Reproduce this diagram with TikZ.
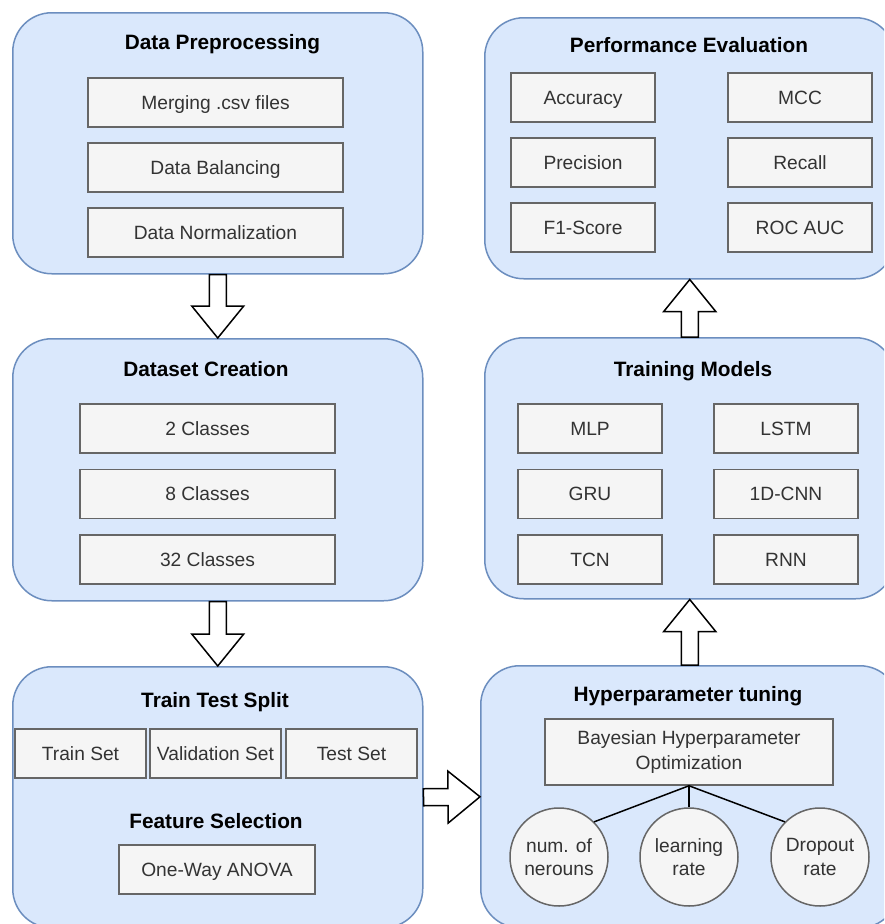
\documentclass[tikz,border=0pt]{standalone}
\usepackage{fontspec}
\setmainfont{Liberation Sans}
\usetikzlibrary{calc}
\definecolor{grpfill}{HTML}{DAE8FC}
\definecolor{grpline}{HTML}{6C8EBF}
\definecolor{itemfill}{HTML}{F5F5F5}
\definecolor{itemline}{HTML}{666666}
\definecolor{itemtext}{HTML}{333333}
\tikzset{
  grp/.style={draw=grpline, fill=grpfill, line width=1.5pt, rounded corners=39pt,
    rectangle, inner sep=0pt, anchor=north west},
  itembox/.style={draw=itemline, fill=itemfill, line width=1.5pt, rectangle, inner sep=0pt,
    text=itemtext, font=\fontsize{19.2}{23}\selectfont, text height=13.7pt, text depth=0pt,
    minimum height=49pt, align=center},
  twoline/.style={draw=itemline, fill=itemfill, line width=1.5pt, rectangle, inner sep=0pt,
    text=itemtext, font=\fontsize{19.2}{24.5}\selectfont, minimum height=66pt, align=center},
  ttl/.style={font=\bfseries\fontsize{20.8}{25}\selectfont, anchor=base, inner sep=0pt},
  circ/.style={circle, draw=itemline, fill=itemfill, line width=1.5pt, minimum size=98pt,
    inner sep=0pt, text=itemtext, font=\fontsize{19.2}{23.3}\selectfont, align=center},
  blkarr/.style={draw=black, fill=white, line width=1.5pt, line join=miter},
  link/.style={draw=black, line width=1.5pt}
}
\newcommand\blkarrow[2]{%
  \coordinate (ba-s) at (#1);
  \coordinate (ba-t) at (#2);
  \coordinate (ba-h) at ($(ba-t)!32pt!(ba-s)$);
  \draw[blkarr] ($(ba-s)!8.5pt!90:(ba-t)$) -- ($(ba-h)!8.5pt!-90:(ba-s)$)
    -- ($(ba-h)!26pt!-90:(ba-s)$) -- (ba-t) -- ($(ba-h)!26pt!90:(ba-s)$)
    -- ($(ba-h)!8.5pt!90:(ba-s)$) -- ($(ba-s)!8.5pt!-90:(ba-t)$) -- cycle;
}
\begin{document}
\begin{tikzpicture}[x=1pt, y=-1pt]
\useasboundingbox (0,0) rectangle (884,924);
\clip (0,0) rectangle (884,924);
\fill[white] (0,0) rectangle (884,924);

% group boxes
\node[grp, minimum width=410pt, minimum height=261pt] (pre) at (12,12) {};
\node[grp, minimum width=410pt, minimum height=262pt] (dc) at (12,338) {};
\node[grp, minimum width=410pt, minimum height=261pt] (tts) at (12,666) {};
\node[grp, minimum width=410pt, minimum height=261pt] (perf) at (484,17) {};
\node[grp, minimum width=410pt, minimum height=261pt] (tm) at (484,337) {};
\node[grp, minimum width=418pt, minimum height=262pt] (ht) at (480,665) {};

% titles
\node[ttl] (preT) at (222.5,49) {Data Preprocessing};
\node[ttl] (dcT) at (206,376) {Dataset Creation};
\node[ttl] (ttsT) at (215,707) {Train Test Split};
\node[ttl] (fsT) at (216,828) {Feature Selection};
\node[ttl] (perfT) at (689,52) {Performance Evaluation};
\node[ttl] (tmT) at (693,376) {Training Models};
\node[ttl] (htT) at (688,701) {Hyperparameter tuning};

% data preprocessing items
\node[itembox, minimum width=255pt] (merge) at (215.5,102.5) {Merging .csv files};
\node[itembox, minimum width=255pt] (bal) at (215.5,167.5) {Data Balancing};
\node[itembox, minimum width=255pt] (norm) at (215.5,232.5) {Data Normalization};

% dataset creation items
\node[itembox, minimum width=255pt] (c2) at (207.5,428.5) {2 Classes};
\node[itembox, minimum width=255pt] (c8) at (207.5,494) {8 Classes};
\node[itembox, minimum width=255pt] (c32) at (207.5,559.5) {32 Classes};

% split items
\node[itembox, minimum width=131pt] (train) at (80.5,753.5) {Train Set};
\node[itembox, minimum width=131pt] (val) at (215.5,753.5) {Validation Set};
\node[itembox, minimum width=131pt] (test) at (351.5,753.5) {Test Set};
\node[itembox, minimum width=196pt] (anova) at (217,869.5) {One-Way ANOVA};

% performance items
\node[itembox, minimum width=144pt] (acc) at (583,97.5) {Accuracy};
\node[itembox, minimum width=144pt] (prec) at (583,162.5) {Precision};
\node[itembox, minimum width=144pt] (f1) at (583,227.5) {F1-Score};
\node[itembox, minimum width=144pt] (mcc) at (800,97.5) {MCC};
\node[itembox, minimum width=144pt] (rec) at (800,162.5) {Recall};
\node[itembox, minimum width=144pt] (roc) at (800,227.5) {ROC AUC};

% training models items
\node[itembox, minimum width=144pt] (mlp) at (590,428.5) {MLP};
\node[itembox, minimum width=144pt] (gru) at (590,494) {GRU};
\node[itembox, minimum width=144pt] (tcn) at (590,559.5) {TCN};
\node[itembox, minimum width=144pt] (lstm) at (786,428.5) {LSTM};
\node[itembox, minimum width=144pt] (cnn) at (786,494) {1D-CNN};
\node[itembox, minimum width=144pt] (rnn) at (786,559.5) {RNN};

% hyperparameter tuning
\node[twoline, minimum width=288pt] (bay) at (689,752) {Bayesian Hyperparameter\\Optimization};
\node[circ] (p1) at (559,857) {num. of\\nerouns};
\node[circ] (p2) at (689,857) {learning\\rate};
\node[circ] (p3) at (820,857) {Dropout\\rate};
\draw[link] (bay.south) -- (p1.45);
\draw[link] (bay.south) -- (p2.north);
\draw[link] (bay.south) -- (p3.135);

% block arrows
\blkarrow{pre.south}{dc.north}
\blkarrow{dc.south}{tts.north}
\blkarrow{tts.east}{ht.west}
\blkarrow{ht.north}{tm.south}
\blkarrow{tm.north}{perf.south}
\end{tikzpicture}
\end{document}
